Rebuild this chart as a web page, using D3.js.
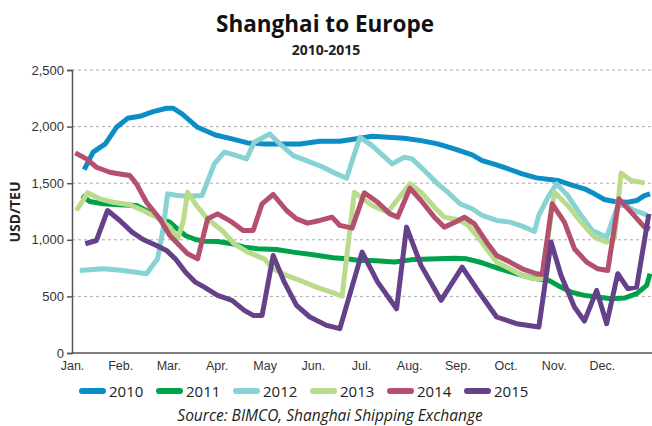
<!DOCTYPE html>
<html>
<head>
<meta charset="utf-8">
<script src="https://cdn.jsdelivr.net/npm/d3@7"></script>
<style>
  body { margin: 0; background: #fff; }
  svg { font-family: "Open Sans", "Noto Sans", sans-serif; }
</style>
</head>
<body>
<div id="chart"></div>
<script>
// Month labels along the bottom
const months = ["Jan.", "Feb.", "Mar.", "Apr.", "May", "Jun.", "Jul.", "Aug.", "Sep.", "Oct.", "Nov.", "Dec."];
const yTicks = [0, 500, 1000, 1500, 2000, 2500];

// Weekly rates, [week of year, USD/TEU]
const y2010 = [[1.1,1620],[1.9,1774],[3.0,1847],[4.0,1994],[5.0,2073],[6.1,2091],[7.3,2132],[8.5,2162],[9.1,2162],[9.9,2112],[11.3,1994],[12.9,1926],[14.4,1891],[15.8,1856],[17.3,1847],[18.7,1847],[20.5,1847],[22.3,1870],[24.1,1870],[25.9,1897],[27.0,1915],[28.4,1906],[29.9,1897],[31.4,1876],[32.9,1847],[34.4,1803],[36.0,1750],[36.9,1700],[38.2,1662],[39.4,1621],[40.5,1582],[41.8,1547],[43.7,1524],[44.9,1485],[46.1,1450],[47.0,1406],[47.9,1356],[48.8,1338],[50.0,1332],[50.8,1347],[51.5,1391],[52.0,1406]];
const y2011 = [[0.9,1391],[1.6,1338],[2.8,1318],[4.3,1309],[5.8,1303],[7.0,1244],[7.9,1185],[8.8,1156],[9.3,1112],[10.2,1038],[11.1,1003],[11.9,988],[13.1,985],[14.4,965],[15.5,935],[16.7,921],[18.4,915],[19.9,891],[21.7,868],[23.5,841],[24.7,832],[25.9,818],[27.0,818],[29.0,803],[30.8,827],[32.9,832],[34.4,838],[35.5,832],[36.9,797],[38.5,744],[40.0,700],[41.4,662],[42.9,641],[43.7,597],[44.9,538],[46.1,509],[47.3,494],[48.5,480],[49.7,485],[50.8,524],[51.7,597],[52.0,700]];
const y2012 = [[0.7,729],[2.8,744],[4.6,729],[6.7,700],[7.7,832],[8.2,1097],[8.6,1406],[9.5,1391],[10.4,1385],[11.7,1391],[12.8,1671],[13.7,1774],[14.6,1750],[15.7,1715],[16.4,1862],[17.8,1935],[18.7,1847],[19.9,1744],[21.1,1700],[22.6,1641],[23.8,1582],[24.7,1544],[25.9,1906],[27.0,1832],[28.8,1671],[29.9,1729],[30.6,1715],[31.7,1612],[32.9,1494],[33.8,1421],[34.9,1318],[36.0,1274],[36.9,1215],[38.2,1171],[39.4,1156],[40.5,1121],[41.6,1074],[42.0,1215],[42.9,1391],[43.6,1494],[44.6,1391],[45.8,1215],[46.8,1082],[48.1,1024],[49.1,1303],[49.7,1303],[50.6,1259],[51.7,1221]];
const y2013 = [[0.4,1259],[1.4,1415],[2.5,1362],[3.7,1332],[5.2,1309],[6.4,1259],[7.6,1200],[8.8,1112],[9.5,1009],[10.0,1156],[10.4,1421],[11.2,1303],[12.2,1185],[13.5,1082],[14.6,965],[15.8,891],[17.3,832],[18.1,744],[19.3,685],[20.5,641],[22.0,582],[23.5,532],[24.3,503],[25.4,1421],[27.0,1303],[28.4,1244],[30.4,1494],[31.4,1421],[32.6,1288],[33.5,1200],[34.6,1180],[35.5,1141],[36.4,1038],[37.3,921],[38.2,803],[39.4,744],[40.5,685],[41.4,656],[42.3,656],[43.4,1421],[44.6,1303],[45.8,1156],[47.0,1024],[48.1,980],[48.8,1009],[49.4,1591],[50.3,1524],[51.5,1503]];
const y2014 = [[0.3,1768],[1.3,1715],[2.2,1641],[3.4,1597],[4.3,1582],[5.2,1568],[5.8,1494],[6.7,1332],[7.9,1185],[8.8,1038],[10.4,877],[11.3,832],[12.2,1185],[13.1,1229],[14.4,1156],[15.4,1082],[16.3,1082],[17.1,1318],[18.1,1400],[19.3,1259],[20.2,1185],[21.2,1147],[22.3,1171],[23.4,1200],[24.1,1127],[25.2,1103],[26.3,1415],[27.5,1332],[28.6,1229],[29.3,1200],[30.4,1456],[31.4,1347],[32.6,1200],[33.5,1112],[34.6,1162],[35.3,1200],[36.2,1141],[37.3,979],[38.2,862],[39.4,803],[40.5,744],[41.8,700],[42.3,694],[43.2,1318],[44.3,1156],[45.2,921],[46.3,803],[47.3,744],[48.2,729],[49.2,1362],[50.3,1244],[51.5,1112],[52.0,1097]];
const y2015 = [[1.2,965],[2.2,994],[3.2,1259],[4.3,1171],[5.4,1068],[6.4,1003],[7.6,950],[8.5,906],[9.3,832],[10.2,715],[11.1,626],[11.9,582],[13.1,509],[14.4,465],[15.5,376],[16.3,332],[17.1,332],[18.1,862],[19.1,626],[20.2,421],[21.4,318],[22.9,244],[24.1,215],[26.1,891],[27.5,626],[29.2,391],[30.1,1112],[31.4,774],[33.2,465],[35.1,759],[36.4,568],[38.2,318],[40.0,259],[42.0,229],[43.1,980],[44.0,685],[45.2,406],[46.1,282],[47.2,553],[48.1,259],[49.1,700],[50.0,568],[50.8,582],[51.9,1229]];

const years = ["2010", "2011", "2012", "2013", "2014", "2015"];
const seriesData = [y2010, y2011, y2012, y2013, y2014, y2015];
const colors = ["#0b8dc6", "#00a14b", "#87d2d2", "#b9dc8c", "#b54f6e", "#65418a"];

const chartWidth = 652, chartHeight = 426;
const marginLeft = 72, plotRight = 650, plotTop = 70, plotBottom = 353;

let svg = d3.select("#chart").append("svg")
    .attr("width", chartWidth)
    .attr("height", chartHeight);

// Scales
let x = d3.scaleLinear().domain([0, 52]).range([marginLeft, plotRight]);
let xMonth = d3.scaleLinear().domain([0, 12]).range([marginLeft, plotRight]);
let y = d3.scaleLinear().domain([0, 2500]).range([plotBottom, plotTop]);

// Title
svg.append("text")
    .attr("x", 325).attr("y", 32)
    .attr("text-anchor", "middle")
    .style("font-size", "22.5px").style("font-weight", "bold")
    .attr("fill", "#111")
    .text("Shanghai to Europe");
svg.append("text")
    .attr("x", 326).attr("y", 55)
    .attr("text-anchor", "middle")
    .style("font-size", "14px").style("font-weight", "bold")
    .attr("fill", "#222")
    .text("2010-2015");

// Dashed grid lines
svg.append("g")
    .selectAll("line")
    .data(yTicks.filter(d => d > 0))
    .enter().append("line")
    .attr("x1", marginLeft).attr("x2", chartWidth)
    .attr("y1", d => y(d)).attr("y2", d => y(d))
    .attr("stroke", "#aaa")
    .attr("stroke-dasharray", "3,3");

// Y axis
let axisY = d3.axisLeft(y).tickValues(yTicks).tickSize(5).tickFormat(d3.format(","));
let gY = svg.append("g")
    .attr("transform", `translate(${marginLeft},0)`)
    .call(axisY);
gY.select(".domain").attr("stroke", "#555").attr("stroke-width", 1.5);
gY.selectAll(".tick line").attr("stroke", "#555").attr("stroke-width", 1.5);
gY.selectAll("text").style("font-size", "13px").attr("fill", "#333").attr("x", -8);

// X axis (no ticks, labels at month starts)
let axisX = d3.axisBottom(xMonth).tickValues(d3.range(12)).tickSize(0).tickPadding(8)
    .tickFormat(i => months[i]);
let gX = svg.append("g")
    .attr("transform", `translate(0,${plotBottom})`)
    .call(axisX);
gX.select(".domain").attr("stroke", "#555").attr("stroke-width", 1.5)
    .attr("d", `M${marginLeft},0H${chartWidth}`);
gX.selectAll("text").style("font-size", "12.5px").attr("fill", "#333");

// Y axis title
svg.append("text")
    .attr("transform", "translate(20,212) rotate(-90)")
    .attr("text-anchor", "middle")
    .style("font-size", "14px").style("font-weight", "bold")
    .attr("fill", "#222")
    .text("USD/TEU");

// Lines
let line = d3.line()
    .x(d => x(d[0]))
    .y(d => y(d[1]));

svg.append("g")
    .selectAll("path")
    .data(seriesData)
    .enter().append("path")
    .attr("fill", "none")
    .attr("stroke", (d, i) => colors[i])
    .attr("stroke-width", 5)
    .attr("stroke-linejoin", "round")
    .attr("stroke-linecap", "butt")
    .attr("d", line);

// Legend
let legend = svg.append("g")
    .selectAll("g")
    .data(years)
    .enter().append("g")
    .attr("transform", (d, i) => `translate(${82 + i * 77},391)`);
legend.append("line")
    .attr("x1", 0).attr("x2", 21)
    .attr("stroke", (d, i) => colors[i])
    .attr("stroke-width", 6)
    .attr("stroke-linecap", "round");
legend.append("text")
    .attr("x", 27).attr("y", 5.5)
    .style("font-size", "15px")
    .attr("fill", "#222")
    .text(d => d);

// Source
svg.append("text")
    .attr("x", 330).attr("y", 421)
    .attr("text-anchor", "middle")
    .style("font-size", "15.5px").style("font-style", "italic")
    .attr("fill", "#222")
    .text("Source: BIMCO, Shanghai Shipping Exchange");
</script>
</body>
</html>
